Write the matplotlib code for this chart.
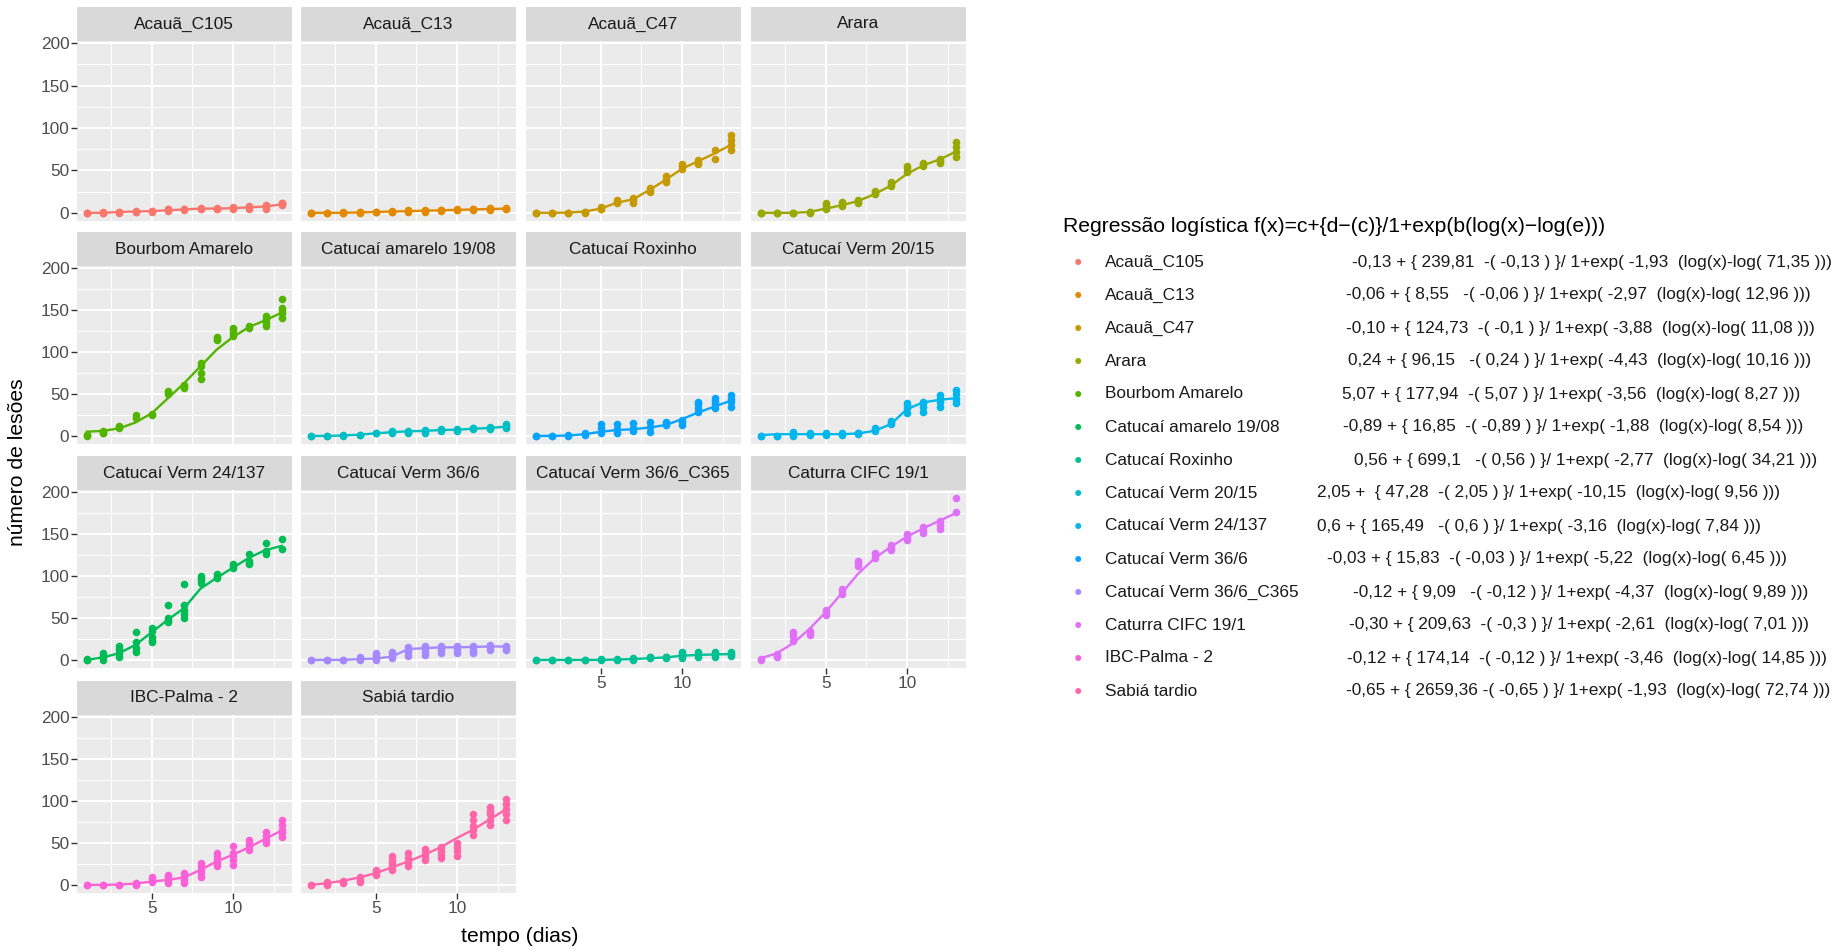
import matplotlib.pyplot as plt

plt.rcParams['font.family'] = ['Liberation Sans', 'DejaVu Sans']

days = list(range(1, 14))

panels = ["Acauã_C105", "Acauã_C13", "Acauã_C47", "Arara",
          "Bourbom Amarelo", "Catucaí amarelo 19/08", "Catucaí Roxinho", "Catucaí Verm 20/15",
          "Catucaí Verm 24/137", "Catucaí Verm 36/6", "Catucaí Verm 36/6_C365", "Caturra CIFC 19/1",
          "IBC-Palma - 2", "Sabiá tardio"]

panel_colors = ["#F8766D", "#E38900", "#C49A00", "#99A800",
                "#53B400", "#00BFC4", "#06A4FF", "#00B6EB",
                "#00BC56", "#A58AFF", "#00C094", "#DF70F8",
                "#FB61D7", "#FF66A8"]

# replicate observations per day (days 1..13)
points = {
    "Acauã_C105": [[0, 0, 0], [0, 0, 0.5], [0, 1, 1.5], [1, 1.5, 2], [1.5, 2, 2.5], [2, 3, 4, 5], [3, 4, 5],
                   [4, 5, 5.5], [5, 5, 5.5], [4, 5.5, 7], [5, 7, 8], [5, 7, 9], [9, 10, 11, 12]],
    "Acauã_C13": [[0, 0, 0], [0, 0, 0], [0, 0, 0.5], [0, 0.5, 1.5], [1, 1, 1.5], [1, 1.5, 2], [1.5, 2, 3],
                  [1, 2.5, 3], [2.5, 3, 3.5], [3, 3.5, 4], [3.5, 4, 4.5], [3, 4.5, 6], [4.5, 5, 5.5]],
    "Acauã_C47": [[0, 0, 0], [0, 0, 0], [0, 0, 0], [0, 1, 1.5], [4, 5, 7], [11, 13, 15], [12, 15, 17],
                  [24, 27, 29], [36, 39, 43], [52, 55, 57], [58, 60, 62], [64, 74], [74, 80, 86, 92]],
    "Arara": [[0, 0, 0], [0, 0, 0], [0, 0, 0], [0, 1, 1.5], [5, 8, 11], [8, 10, 13], [12, 13, 15],
              [22, 24, 26], [32, 34, 36], [48, 53, 55], [55, 57, 59], [59, 61, 63], [66, 72, 78, 84]],
    "Bourbom Amarelo": [[0, 0.5, 1], [3, 4, 6], [10, 11, 12], [21, 25], [25, 26], [50, 52, 53], [57, 59, 61],
                        [68, 75, 83, 87], [114, 116, 118], [119, 123, 126, 129], [129, 131],
                        [131, 135, 140, 143], [141, 147, 150, 153, 163]],
    "Catucaí amarelo 19/08": [[0, 0], [0, 0], [0, 0.5], [1, 1.5], [3, 4], [4, 5, 6], [4, 5, 6], [4, 5.5, 7],
                              [6, 7, 8], [6, 7, 8], [8, 9, 10], [8, 10, 11], [10, 12, 14]],
    "Catucaí Roxinho": [[0, 0], [0, 0], [0, 0.5], [1, 2, 4], [3, 9, 14], [3, 8, 14], [6, 10, 15], [5, 11, 17],
                        [13, 15, 17], [13, 16, 19], [29, 33, 38, 41], [33, 38, 42, 45], [35, 40, 44, 49]],
    "Catucaí Verm 20/15": [[0, 0], [0, 0], [0, 2, 5], [1, 2, 3], [1, 2, 3], [1, 2, 3], [2, 3, 4], [6, 8, 10],
                           [14, 16, 18], [27, 33, 37, 39], [29, 35, 39, 41], [35, 40, 44, 49], [39, 44, 50, 55]],
    "Catucaí Verm 24/137": [[0, 0, 1], [0, 3, 5, 8], [4, 8, 13, 17], [9, 14, 21, 33], [21, 24, 27, 35, 38],
                            [45, 48, 50, 66], [50, 55, 60, 65, 90], [92, 95, 98, 100], [98, 100, 102],
                            [110, 112, 114], [114, 116, 118, 126], [126, 130, 139], [132, 144]],
    "Catucaí Verm 36/6": [[0, 0], [0, 0], [0, 0], [0, 1.5, 3], [0, 3, 6, 8], [2, 5, 8, 10], [5, 9, 12, 15],
                          [6, 10, 13, 16], [8, 12, 14, 16], [8, 11, 14, 16], [8, 11, 14, 16], [12, 15, 18],
                          [12, 14, 17]],
    "Catucaí Verm 36/6_C365": [[0, 0], [0, 0], [0, 0], [0, 0], [0, 0.5], [0, 1], [0, 1, 2], [2, 3, 4],
                               [2, 3, 4], [2, 5, 8, 10], [4, 6, 9], [4, 7, 9], [5, 7, 9]],
    "Caturra CIFC 19/1": [[0, 1], [3, 5, 7], [23, 28, 33], [30, 32, 34], [54, 57, 60], [79, 82, 84],
                          [112, 115, 118], [122, 125, 127], [131, 134, 137], [143, 147, 150],
                          [151, 155, 158], [156, 161, 166], [176, 193]],
    "IBC-Palma - 2": [[0, 0], [0, 0], [0, 0], [0, 1, 2], [4, 7, 10], [2, 6, 9, 12], [2, 6, 10, 14],
                      [10, 14, 18, 22, 26], [22, 26, 30, 34, 38], [24, 30, 34, 38, 47], [42, 46, 50, 53],
                      [50, 54, 58, 63], [57, 62, 66, 72, 77]],
    "Sabiá tardio": [[0, 0], [0, 1.5, 3], [2, 3.5, 5], [3, 6, 9], [12, 15, 18], [18, 22, 26, 30, 35],
                     [22, 27, 32, 38], [30, 34, 38, 43], [32, 36, 40, 45], [35, 40, 45, 50],
                     [60, 65, 70, 77, 85], [72, 78, 84, 88, 93], [78, 85, 90, 96, 102]],
}

# fitted curve values per day
fitted = {
    "Acauã_C105": [0, 0, 1, 1.5, 2, 3, 4, 5, 5, 5.5, 6.5, 7.5, 10],
    "Acauã_C13": [0, 0, 0, 0.5, 1, 1.5, 2, 2.5, 3, 3.5, 4, 4.5, 5],
    "Acauã_C47": [0, 0, 0.3, 1.5, 5, 12, 16, 27, 39, 52, 61, 70, 80],
    "Arara": [0, 0, 0, 1, 5, 9, 14, 22, 32, 46, 56, 63, 72],
    "Bourbom Amarelo": [5, 6, 9, 16, 27, 45, 63, 83, 103, 118, 130, 138, 147],
    "Catucaí amarelo 19/08": [0, 0, 0.5, 1.5, 3, 4.5, 5.5, 6, 7, 7.5, 8.5, 9.5, 11],
    "Catucaí Roxinho": [0, 0, 0.5, 2, 5, 7, 8, 10, 13, 20, 28, 35, 42],
    "Catucaí Verm 20/15": [1, 2, 2, 2, 2, 2, 3, 6, 14, 32, 40, 43, 45],
    "Catucaí Verm 24/137": [0, 3, 8, 18, 33, 48, 62, 85, 98, 110, 122, 131, 136],
    "Catucaí Verm 36/6": [0, 0, 0, 1, 1.5, 4, 13, 14, 15, 15, 15.5, 16, 16],
    "Catucaí Verm 36/6_C365": [0, 0, 0, 0, 0, 0.5, 1, 2, 3, 5, 6, 6.5, 7],
    "Caturra CIFC 19/1": [2, 8, 20, 37, 57, 80, 103, 121, 135, 147, 157, 166, 175],
    "IBC-Palma - 2": [0, 0, 0.5, 1.5, 4, 6, 9, 18, 28, 36, 45, 55, 65],
    "Sabiá tardio": [0, 2, 5, 9, 14, 21, 28, 36, 45, 56, 66, 78, 90],
}

legend_title = "Regressão logística f(x)=c+{d\u2212(c)}/1+exp(b(log(x)\u2212log(e)))"
legend_names = panels
legend_colors = ["#F8766D", "#E38900", "#C49A00", "#99A800", "#53B400", "#00BC56", "#00C094",
                 "#00BFC4", "#00B6EB", "#06A4FF", "#A58AFF", "#DF70F8", "#FB61D7", "#FF66A8"]
legend_formulas = [
    "-0,13 + { 239,81  -( -0,13 ) }/ 1+exp( -1,93  (log(x)-log( 71,35 )))",
    "-0,06 + { 8,55   -( -0,06 ) }/ 1+exp( -2,97  (log(x)-log( 12,96 )))",
    "-0,10 + { 124,73  -( -0,1 ) }/ 1+exp( -3,88  (log(x)-log( 11,08 )))",
    "0,24 + { 96,15   -( 0,24 ) }/ 1+exp( -4,43  (log(x)-log( 10,16 )))",
    "5,07 + { 177,94  -( 5,07 ) }/ 1+exp( -3,56  (log(x)-log( 8,27 )))",
    "-0,89 + { 16,85  -( -0,89 ) }/ 1+exp( -1,88  (log(x)-log( 8,54 )))",
    "0,56 + { 699,1   -( 0,56 ) }/ 1+exp( -2,77  (log(x)-log( 34,21 )))",
    "2,05 +  { 47,28  -( 2,05 ) }/ 1+exp( -10,15  (log(x)-log( 9,56 )))",
    "0,6 + { 165,49   -( 0,6 ) }/ 1+exp( -3,16  (log(x)-log( 7,84 )))",
    "-0,03 + { 15,83  -( -0,03 ) }/ 1+exp( -5,22  (log(x)-log( 6,45 )))",
    "-0,12 + { 9,09   -( -0,12 ) }/ 1+exp( -4,37  (log(x)-log( 9,89 )))",
    "-0,30 + { 209,63  -( -0,3 ) }/ 1+exp( -2,61  (log(x)-log( 7,01 )))",
    "-0,12 + { 174,14  -( -0,12 ) }/ 1+exp( -3,46  (log(x)-log( 14,85 )))",
    "-0,65 + { 2659,36 -( -0,65 ) }/ 1+exp( -1,93  (log(x)-log( 72,74 )))",
]

# layout in pixels
W, H = 1836, 949
col_left = [77, 301, 526, 751]
panel_w = 214.5
strip_top = [7, 232, 456, 681]
strip_h = 34
panel_bottom = [221, 444, 668, 893]
formula_x = [1352, 1346, 1346, 1348, 1342, 1343, 1354, 1317, 1317, 1327, 1353, 1349, 1347, 1346]

small = 12.4
big = 15.2

fig = plt.figure(figsize=(W / 100, H / 100), dpi=100)

for i, name in enumerate(panels):
    r, c = divmod(i, 4)
    top = strip_top[r] + strip_h
    bot = panel_bottom[r]
    ax = fig.add_axes([col_left[c] / W, 1 - bot / H, panel_w / W, (bot - top) / H])
    ax.set_facecolor("#EBEBEB")
    for s in ax.spines.values():
        s.set_visible(False)
    ax.set_xlim(0.4, 13.6)
    ax.set_ylim(-9.65, 202.65)
    for v in [2.5, 7.5, 12.5]:
        ax.axvline(v, color="white", lw=0.7, zorder=0)
    for v in [25, 75, 125, 175]:
        ax.axhline(v, color="white", lw=0.7, zorder=0)
    for v in [5, 10]:
        ax.axvline(v, color="white", lw=1.5, zorder=0)
    for v in [0, 50, 100, 150, 200]:
        ax.axhline(v, color="white", lw=1.5, zorder=0)

    xs, ys = [], []
    for d, vals in zip(days, points[name]):
        xs += [d] * len(vals)
        ys += vals
    ax.scatter(xs, ys, s=30, color=panel_colors[i], zorder=3, linewidths=0)
    ax.plot(days, fitted[name], color=panel_colors[i], lw=1.7, zorder=4)

    ax.set_xticks([5, 10])
    ax.set_yticks([0, 50, 100, 150, 200])
    ax.tick_params(colors="#333333", labelcolor="#4D4D4D", labelsize=small,
                   length=4, width=1.0, pad=1.5)
    if c != 0:
        ax.tick_params(axis="y", left=False, labelleft=False)
    if not (r == 3 or (r == 2 and c >= 2)):
        ax.tick_params(axis="x", bottom=False, labelbottom=False)

    sax = fig.add_axes([col_left[c] / W, 1 - top / H, panel_w / W, strip_h / H])
    sax.set_facecolor("#D9D9D9")
    sax.set_xticks([])
    sax.set_yticks([])
    for s in sax.spines.values():
        s.set_visible(False)
    sax.text(0.5, 0.5, name, ha="center", va="center", fontsize=small, color="#1A1A1A",
             transform=sax.transAxes)

fig.text(18 / W, 1 - 462 / H, "número de lesões", rotation=90, ha="center", va="center", fontsize=big)
fig.text(520 / W, 1 - 937 / H, "tempo (dias)", ha="center", va="center", fontsize=big)

# legend
fig.text(1063 / W, 1 - 226 / H, legend_title, ha="left", va="center", fontsize=big)
for k, (nm, col, fm) in enumerate(zip(legend_names, legend_colors, legend_formulas)):
    y = 1 - (262 + 33 * k) / H
    fig.text(1078 / W, y, "\u25CF", color=col, ha="center", va="center", fontsize=10)
    fig.text(1105 / W, y, nm, ha="left", va="center", fontsize=small, color="#1A1A1A")
    fig.text(formula_x[k] / W, y, fm, ha="left", va="center", fontsize=small, color="#1A1A1A")

fig.savefig("out.png", dpi=100)
